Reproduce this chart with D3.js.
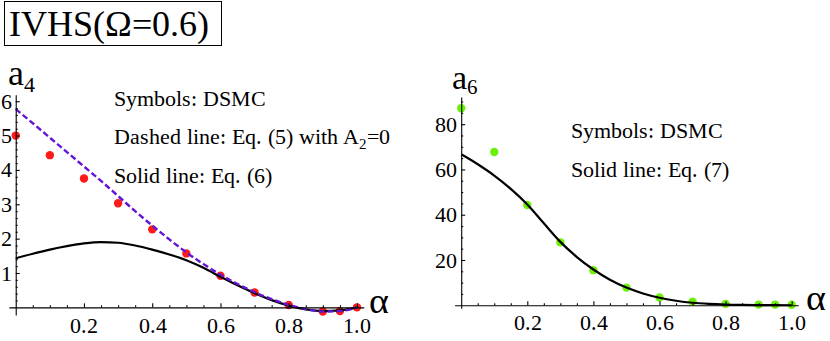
<!DOCTYPE html>
<html><head><meta charset="utf-8"><script src="https://cdn.jsdelivr.net/npm/d3@7"></script>
<style>
  @font-face {
    font-family: "PlotSerif";
    src: local("Liberation Serif"), local("LiberationSerif-Regular"), local("Times New Roman"), local("Tinos");
  }
</style>
</head>
<body style="margin:0">
<script>
// DSMC points
const alphaPts = [0, 0.1, 0.2, 0.3, 0.4, 0.5, 0.6, 0.7, 0.8, 0.9, 0.95, 1.0];
const a4Dsmc = [5.0, 4.43, 3.75, 3.03, 2.27, 1.57, 0.92, 0.43, 0.07, -0.12, -0.11, 0.0];
const a6Dsmc = [87.0, 67.7, 44.3, 27.8, 15.5, 7.8, 3.4, 1.6, 0.6, 0.3, 0.3, 0.2];

// theory curves, sampled every 0.05
const alphaCurve = [0, 0.05, 0.1, 0.15, 0.2, 0.25, 0.3, 0.35, 0.4, 0.45, 0.5,
  0.55, 0.6, 0.65, 0.7, 0.75, 0.8, 0.85, 0.9, 0.95, 1.0];
const a4Eq5 = [5.77, 5.36, 4.94, 4.52, 4.10, 3.68, 3.24, 2.80, 2.38, 1.98, 1.60,
  1.26, 0.95, 0.68, 0.44, 0.24, 0.07, -0.05, -0.12, -0.11, 0.0];
const a4Eq6 = [1.43, 1.56, 1.68, 1.78, 1.86, 1.90, 1.88, 1.80, 1.68, 1.54, 1.37,
  1.15, 0.89, 0.64, 0.41, 0.21, 0.05, -0.06, -0.11, -0.09, 0.0];
const a6Eq7 = [66.7, 62.3, 57.3, 51.4, 44.5, 36.2, 28.0, 21.3, 15.8, 11.3, 7.8,
  5.2, 3.3, 2.0, 1.1, 0.6, 0.3, 0.15, 0.07, 0.02, 0.0];

// ticks
const xMajor = [0.2, 0.4, 0.6, 0.8, 1.0];
const a4Ticks = [1, 2, 3, 4, 5, 6];
const a6Ticks = [20, 40, 60, 80];

const FONT = "PlotSerif";
const svg = d3.select("body").append("svg")
  .attr("width", 830).attr("height", 341)
  .attr("font-family", FONT);

// title box
svg.append("rect")
  .attr("x", 4.5).attr("y", 1.5).attr("width", 217).attr("height", 44)
  .attr("fill", "none").attr("stroke", "#000").attr("stroke-width", 1);
svg.append("text").attr("x", 9).attr("y", 36)
  .attr("font-size", 36)
  .text("IVHS(Ω=0.6)");

function addText(parent, x, y, size, str) {
  return parent.append("text").attr("x", x).attr("y", y)
    .attr("font-size", size).text(str);
}

function drawPanel(opt) {
  const x = d3.scaleLinear().domain([-0.02, 1.02]).range(opt.xr);
  const y = d3.scaleLinear().domain(opt.yd).range(opt.yr);
  const g = svg.append("g");

  // points first, lines drawn over them
  g.selectAll("circle.pt")
    .data(alphaPts.map((a, i) => [a, opt.pts[i]]))
    .join("circle")
    .attr("class", "pt")
    .attr("cx", d => x(d[0]))
    .attr("cy", d => y(d[1]))
    .attr("r", 4.2)
    .attr("fill", opt.ptColor);

  const line = d3.line()
    .curve(d3.curveMonotoneX)
    .x(d => x(d[0]))
    .y(d => y(d[1]));

  opt.curves.forEach(c => {
    g.append("path")
      .datum(alphaCurve.map((a, i) => [a, c.values[i]]))
      .attr("d", line)
      .attr("fill", "none")
      .attr("stroke", c.color)
      .attr("stroke-width", c.w)
      .attr("stroke-dasharray", c.dash || null);
  });

  // x axis
  const xMinor = d3.range(0.05, 1.001, 0.05).filter(v => Math.abs(v * 5 - Math.round(v * 5)) > 1e-6);
  g.append("g")
    .attr("transform", "translate(0," + y(0) + ")")
    .call(d3.axisBottom(x).tickValues(xMinor).tickSizeInner(-2).tickSizeOuter(0).tickFormat(""))
    .call(s => s.select(".domain").remove());
  const xa = g.append("g")
    .attr("transform", "translate(0," + y(0) + ")")
    .call(d3.axisBottom(x).tickValues(xMajor).tickSizeInner(-4).tickSizeOuter(0)
      .tickPadding(opt.xPad).tickFormat(d3.format(".1f")));

  // y axis
  g.append("g")
    .attr("transform", "translate(" + x(0) + ",0)")
    .call(d3.axisLeft(y).tickValues(opt.yMinor).tickSizeInner(-2).tickSizeOuter(0).tickFormat(""))
    .call(s => s.select(".domain").remove());
  const ya = g.append("g")
    .attr("transform", "translate(" + x(0) + ",0)")
    .call(d3.axisLeft(y).tickValues(opt.yTicks).tickSizeInner(-4).tickSizeOuter(0)
      .tickPadding(4).tickFormat(d3.format("d")));

  g.selectAll(".tick line, .domain").attr("stroke", "#000").attr("stroke-width", 1.1);
  g.selectAll("g").attr("font-family", null).attr("font-size", null);
  xa.selectAll("text").attr("fill", "#000").attr("font-size", 22);
  ya.selectAll("text").attr("fill", "#000").attr("font-size", 22);

  // axis labels
  const yl = addText(g, opt.yLab[0], opt.yLab[1], opt.yLab[2], null);
  yl.append("tspan").text("a");
  yl.append("tspan").attr("dy", opt.yLab[3]).attr("font-size", opt.yLab[4]).text(opt.sub);
  addText(g, opt.aLab[0], opt.aLab[1], 38, "α");

  // annotation text
  opt.notes.forEach(n => {
    const t = addText(g, n.x, n.y, 22, null);
    n.parts.forEach(p => {
      const ts = t.append("tspan").text(p.t);
      if (p.sub) ts.attr("dy", 5).attr("font-size", 15);
      if (p.back) ts.attr("dy", -5);
    });
  });
}

drawPanel({
  xr: [8.9, 363.8], yd: [-0.22, 6.19], yr: [314.9, 94.7],
  pts: a4Dsmc, ptColor: "#ff1a1a",
  curves: [
    { values: a4Eq6, color: "#000", w: 2.2 },
    { values: a4Eq5, color: "#6414d8", w: 2.4, dash: "6,3" }
  ],
  xPad: 10,
  yTicks: a4Ticks,
  yMinor: d3.range(0.2, 6.01, 0.2).filter(v => Math.abs(v - Math.round(v)) > 1e-6),
  sub: "4", yLab: [8, 85, 36, 7, 22],
  aLab: [369, 313],
  notes: [
    { x: 114, y: 106, parts: [{ t: "Symbols: DSMC" }] },
    { x: 114, y: 144, parts: [{ t: "Dashed line: Eq. (5) with A" }, { t: "2", sub: true }, { t: "=0", back: true }] },
    { x: 114, y: 183, parts: [{ t: "Solid line: Eq. (6)" }] }
  ]
});

drawPanel({
  xr: [454.6, 798.3], yd: [-1.3, 92], yr: [308.2, 97],
  pts: a6Dsmc, ptColor: "#6cf00a",
  curves: [{ values: a6Eq7, color: "#000", w: 2.2 }],
  xPad: 9,
  yTicks: a6Ticks,
  yMinor: d3.range(5, 90.1, 5).filter(v => v % 20 !== 0),
  sub: "6", yLab: [452, 89, 34, 5, 21],
  aLab: [806, 310],
  notes: [
    { x: 571, y: 138, parts: [{ t: "Symbols: DSMC" }] },
    { x: 571, y: 177, parts: [{ t: "Solid line: Eq. (7)" }] }
  ]
});
</script>
</body>
</html>
